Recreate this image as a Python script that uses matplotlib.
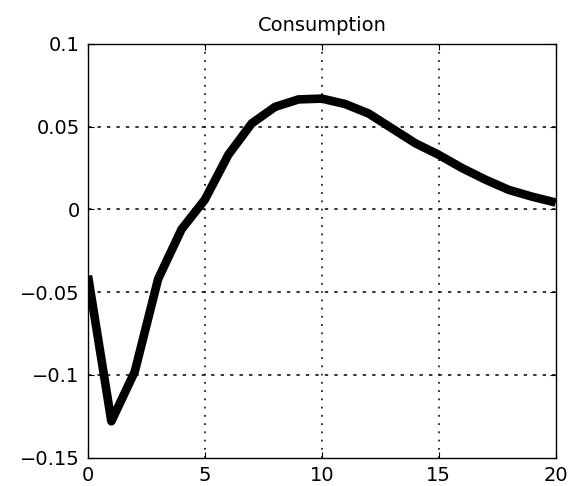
import matplotlib
matplotlib.use("Agg")
import matplotlib.pyplot as plt

# Impulse response of consumption over 20 periods
periods = list(range(0, 21))
consumption = [-0.040, -0.128, -0.098, -0.042, -0.012, 0.006, 0.033, 0.052,
               0.062, 0.0665, 0.067, 0.0637, 0.058, 0.049, 0.040, 0.033,
               0.025, 0.018, 0.0118, 0.0077, 0.0042]

x_ticks = [0, 5, 10, 15, 20]
y_ticks = [-0.15, -0.1, -0.05, 0, 0.05, 0.1]
y_tick_labels = ["\u22120.15", "\u22120.1", "\u22120.05", "0", "0.05", "0.1"]

plt.rcParams["font.family"] = ["DejaVu Sans"]

fig = plt.figure(figsize=(5.72, 4.86), dpi=100)
ax = fig.add_axes([0.1538, 0.0582, 0.8177, 0.8513])

ax.plot(periods, consumption, color="black", linewidth=6.2,
        solid_joinstyle="round", solid_capstyle="butt", zorder=3)

ax.set_xlim(0, 20)
ax.set_ylim(-0.15, 0.1)
ax.set_xticks(x_ticks)
ax.set_xticklabels([str(t) for t in x_ticks])
ax.set_yticks(y_ticks)
ax.set_yticklabels(y_tick_labels)

# dotted grid: dots on verticals, short dashes on horizontals
for xv in x_ticks[1:-1]:
    ax.axvline(xv, color="black", linewidth=1.1, linestyle=(0, (1.2, 4.2)), zorder=1)
for yv in y_ticks[1:-1]:
    ax.axhline(yv, color="black", linewidth=1.1, linestyle=(0, (2.2, 4.0)), zorder=1)

ax.tick_params(direction="in", length=4, width=0.8, top=True, right=True,
               labelsize=14, colors="black")
ax.tick_params(axis="x", pad=6)
ax.tick_params(axis="y", pad=6)
for s in ax.spines.values():
    s.set_linewidth(1.0)
    s.set_color("black")

ax.set_title("Consumption", fontsize=14, pad=9)

fig.savefig("out.png", dpi=100, facecolor="white")
